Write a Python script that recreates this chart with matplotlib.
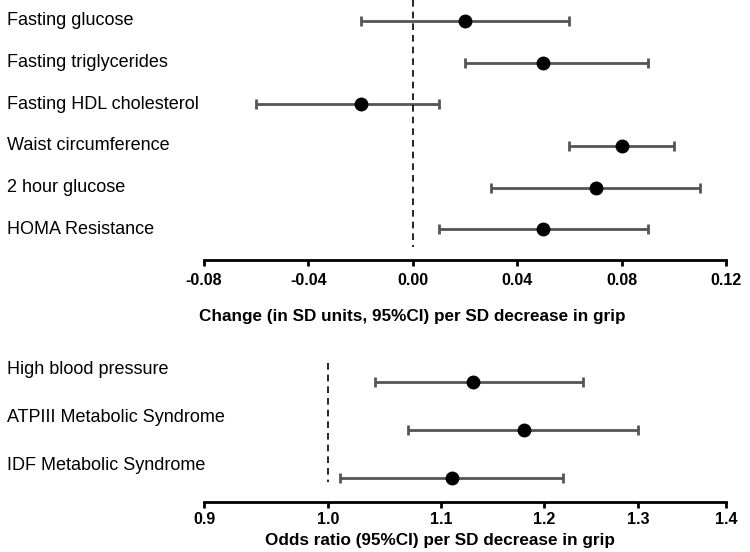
import numpy as np
import matplotlib
matplotlib.use("Agg")
import matplotlib.pyplot as plt
from matplotlib.transforms import blended_transform_factory

plt.rcParams['font.family'] = ['Liberation Sans', 'DejaVu Sans']

# top panel: change in SD units
top_labels = ["Fasting glucose", "Fasting triglycerides", "Fasting HDL cholesterol",
              "Waist circumference", "2 hour glucose", "HOMA Resistance"]
top_est = [0.02, 0.05, -0.02, 0.08, 0.07, 0.05]
top_lo = [-0.02, 0.02, -0.06, 0.06, 0.03, 0.01]
top_hi = [0.06, 0.09, 0.01, 0.10, 0.11, 0.09]
top_ticks = [-0.08, -0.04, 0.00, 0.04, 0.08, 0.12]

# bottom panel: odds ratios
bot_labels = ["High blood pressure", "ATPIII Metabolic Syndrome", "IDF Metabolic Syndrome"]
bot_est = [1.13, 1.18, 1.11]
bot_lo = [1.04, 1.07, 1.01]
bot_hi = [1.24, 1.30, 1.22]
bot_ticks = [0.9, 1.0, 1.1, 1.2, 1.3, 1.4]

fig = plt.figure(figsize=(7.5, 5.52), dpi=100)
W, H = 750.0, 552.0
ax1 = fig.add_axes([204 / W, 1 - 260 / H, 522 / W, 260 / H])
ax2 = fig.add_axes([204 / W, 1 - 501.5 / H, 522 / W, 143.5 / H])


def style(ax, pad):
    for s in ['top', 'right', 'left']:
        ax.spines[s].set_visible(False)
    ax.spines['bottom'].set_linewidth(2)
    ax.set_yticks([])
    ax.tick_params(axis='x', length=4.5, width=2, pad=pad, labelsize=11.5)
    for t in ax.get_xticklabels():
        t.set_fontweight('bold')
    ax.set_facecolor('none')


def draw(ax, est, lo, hi):
    y = np.arange(len(est))
    est = np.array(est)
    err = [est - np.array(lo), np.array(hi) - est]
    ax.errorbar(est, y, xerr=err, fmt='none', ecolor='#555555', elinewidth=2,
                capsize=3.5, capthick=2, zorder=2)
    ax.plot(est, y, 'o', color='black', markersize=9, zorder=3)


# top
draw(ax1, top_est, top_lo, top_hi)
ax1.vlines(0, -0.5, 5.43, colors='black', linestyles=(0, (4, 3)), linewidth=1.2)
ax1.set_xlim(-0.08, 0.12)
ax1.set_ylim(5.74, -0.5)
ax1.set_xticks(top_ticks)
ax1.set_xticklabels([f"{v:.2f}" for v in top_ticks])
style(ax1, 5)
fig.text(412 / W, 1 - 316 / H, "Change (in SD units, 95%CI) per SD decrease in grip",
         fontsize=12.3, fontweight='bold', ha='center', va='center')
tr1 = blended_transform_factory(fig.transFigure, ax1.transData)
for i, lab in enumerate(top_labels):
    ax1.text(7 / W, i, lab, transform=tr1, fontsize=13, va='center', ha='left')

# bottom
draw(ax2, bot_est, bot_lo, bot_hi)
ax2.set_xscale('log')
ax2.vlines(1.0, -0.4, 2.08, colors='black', linestyles=(0, (4, 3)), linewidth=1.2)
ax2.set_xlim(0.9, 1.4)
ax2.set_ylim(2.49, -0.5)
ax2.set_xticks(bot_ticks)
ax2.set_xticklabels([f"{v:.1f}" for v in bot_ticks])
ax2.xaxis.set_minor_locator(matplotlib.ticker.NullLocator())
style(ax2, 3)
fig.text(440 / W, 1 - 541 / H, "Odds ratio (95%CI) per SD decrease in grip",
         fontsize=12.3, fontweight='bold', ha='center', va='center')
tr2 = blended_transform_factory(fig.transFigure, ax2.transData)
for i, lab in enumerate(bot_labels):
    ax2.text(7 / W, i - 0.25, lab, transform=tr2, fontsize=13, va='center', ha='left')

fig.savefig("out.png", dpi=100)
